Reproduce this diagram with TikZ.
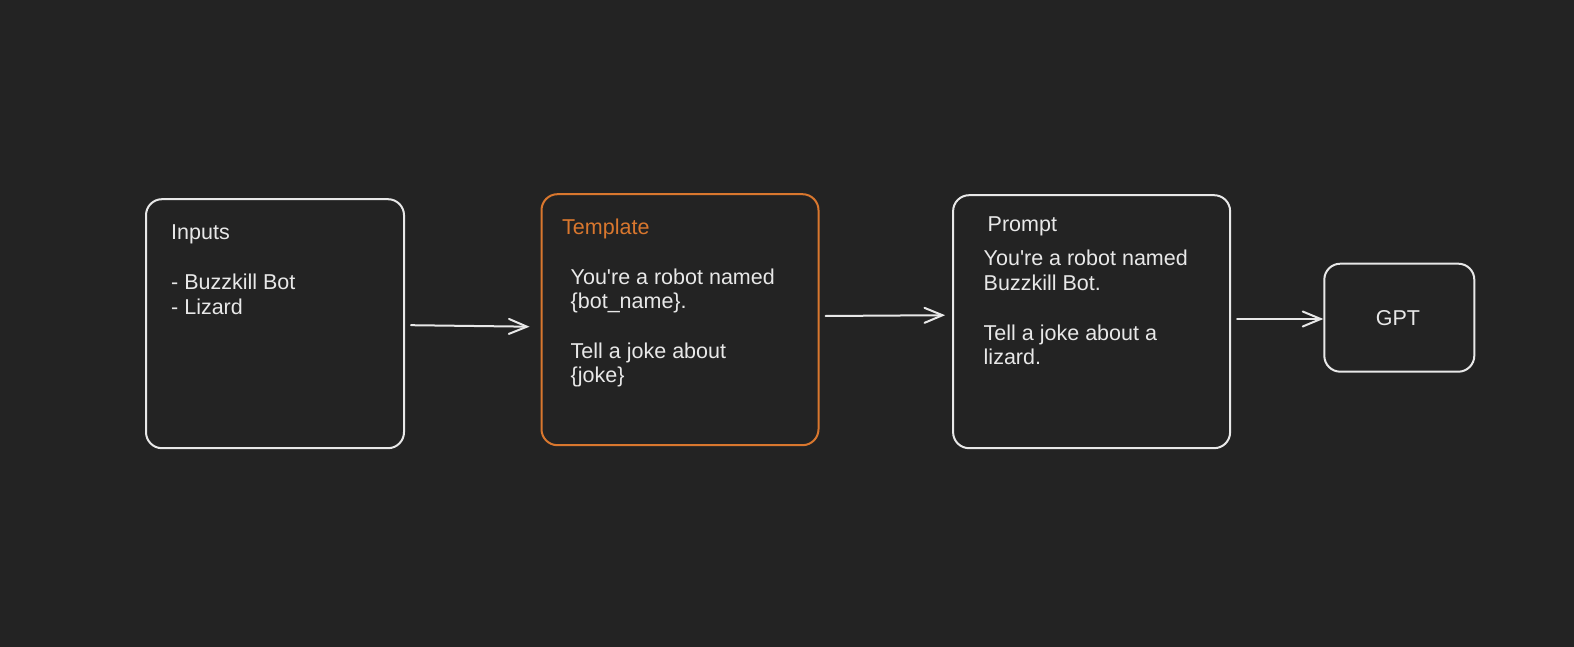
\documentclass[tikz,border=0pt]{standalone}
\usepackage{fontspec}
\setmainfont{Liberation Sans}[Ligatures=TeXOff]
\usetikzlibrary{arrows.meta}
\definecolor{bg}{HTML}{232323}
\definecolor{fg}{HTML}{E8E8E8}
\definecolor{org}{HTML}{D9772E}
\begin{document}
\begin{tikzpicture}[x=1pt,y=-1pt,
  box/.style={draw=fg, line width=2pt, rounded corners=16pt, inner sep=0pt},
  txt/.style={anchor=base west, inner sep=0pt, text=fg, font=\fontsize{21.5}{25}\selectfont},
  conn/.style={draw=fg, line width=2pt, line cap=round, -{Straight Barb[length=18pt,width=15pt,line cap=round]}}]
\fill[bg] (0,0) rectangle (1574,647);
\useasboundingbox (0,0) rectangle (1574,647);
% boxes
\node[box, minimum width=258pt, minimum height=249pt] (inputs) at (275,323.7) {};
\node[box, draw=org, minimum width=277pt, minimum height=251pt] (template) at (680,319.7) {};
\node[box, minimum width=277pt, minimum height=253pt] (prompt) at (1091.6,321.7) {};
\node[box, minimum width=150pt, minimum height=108pt] (gpt) at (1399.3,317.7) {};
% texts
\node[txt] (t1) at (171,240) {Inputs};
\node[txt] (t2) at (171,289) {- Buzzkill Bot};
\node[txt] (t3) at (171,314) {- Lizard};
\node[txt, text=org] (t4) at (562,235) {Template};
\node[txt] (t5) at (570.5,284) {You're a robot named};
\node[txt] (t6) at (570.5,308.5) {\{bot\_name\}.};
\node[txt] (t7) at (570.5,358) {Tell a joke about};
\node[txt] (t8) at (570.5,382.5) {\{joke\}};
\node[txt] (t9) at (987.5,232) {Prompt};
\node[txt] (t10) at (983.5,265.5) {You're a robot named};
\node[txt] (t11) at (983.5,290) {Buzzkill Bot.};
\node[txt] (t12) at (983.5,340) {Tell a joke about a};
\node[txt] (t13) at (983.5,364) {lizard.};
\node[txt, anchor=base] (t14) at (1398,325.5) {GPT};
% connectors
\draw[conn] ([xshift=6pt,yshift=-1.5pt]inputs.east) -- ([xshift=-11pt,yshift=-7pt]template.west);
\draw[conn] ([xshift=6pt,yshift=3.7pt]template.east) -- ([xshift=-7pt,yshift=6.5pt]prompt.west);
\draw[conn] ([xshift=6pt,yshift=2.7pt]prompt.east) -- ([xshift=0pt,yshift=-1.3pt]gpt.west);
\end{tikzpicture}
\end{document}
